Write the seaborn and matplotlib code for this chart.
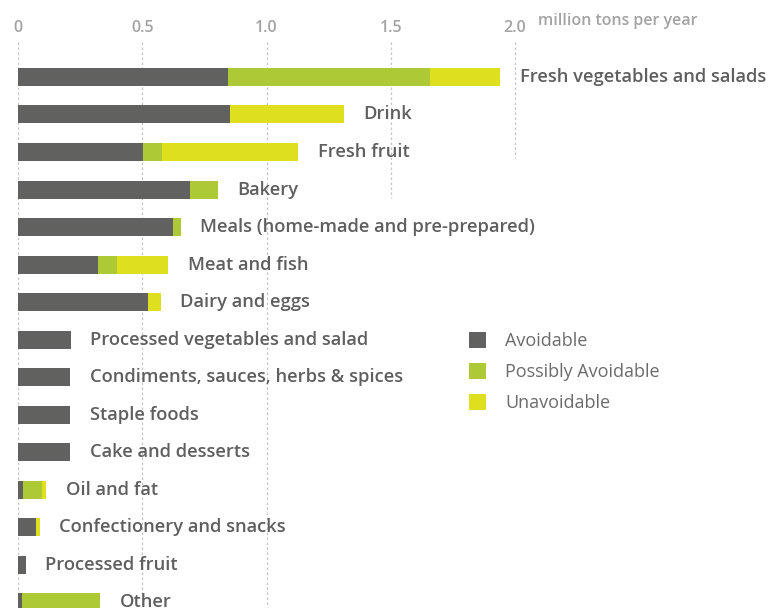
import matplotlib
matplotlib.use("Agg")
import matplotlib.pyplot as plt
import seaborn as sns
import pandas as pd
from matplotlib.patches import Patch

# Food waste per category (million tons per year)
categories = [
    "Fresh vegetables and salads", "Drink", "Fresh fruit", "Bakery",
    "Meals (home-made and pre-prepared)", "Meat and fish", "Dairy and eggs",
    "Processed vegetables and salad", "Condiments, sauces, herbs & spices",
    "Staple foods", "Cake and desserts", "Oil and fat",
    "Confectionery and snacks", "Processed fruit", "Other",
]
avoidable = [0.845, 0.853, 0.503, 0.692, 0.624, 0.322, 0.523, 0.213, 0.21, 0.21, 0.21, 0.02, 0.072, 0.032, 0.016]
possibly_avoidable = [0.813, 0.0, 0.077, 0.113, 0.032, 0.076, 0.0, 0.0, 0.0, 0.0, 0.0, 0.077, 0.0, 0.0, 0.314]
unavoidable = [0.282, 0.459, 0.547, 0.0, 0.0, 0.206, 0.052, 0.0, 0.0, 0.0, 0.0, 0.016, 0.016, 0.0, 0.0]
series_names = ["Avoidable", "Possibly Avoidable", "Unavoidable"]
tick_values = [0, 0.5, 1.0, 1.5, 2.0]
tick_labels = ["0", "0.5", "1.0", "1.5", "2.0"]
unit_label = "million tons per year"

colors = ["#616160", "#adc936", "#dedf1f"]
text_grey = "#5f5f5f"
tick_grey = "#a3a3a3"

df = pd.DataFrame({"category": categories, "a": avoidable,
                   "p": possibly_avoidable, "u": unavoidable})
df["ap"] = df["a"] + df["p"]
df["total"] = df["ap"] + df["u"]

sns.set_style("white")
plt.rcParams["font.family"] = ["Open Sans", "DejaVu Sans"]

fig = plt.figure(figsize=(7.72, 6.08), dpi=100)
W, H = 772, 608
x0_px, x_unit_px = 18, 248.5
top_px = 42
ax = fig.add_axes([x0_px / W, 0, 1 - x0_px / W, 1 - top_px / H])

bar_h = 0.48
# stacked bars: draw cumulative totals back to front
for col, c in zip(["total", "ap", "a"], colors[::-1]):
    sns.barplot(data=df, y="category", x=col, color=c, width=bar_h,
                saturation=1, orient="h", linewidth=0, ax=ax)

x_max = (W - x0_px) / x_unit_px
y_top = -0.93
y_bot = (H - 77) / 37.53
ax.set_xlim(0, x_max)
ax.set_ylim(y_bot, y_top)

# dotted gridlines (shorter at right so they stop above the labels)
grid_ends = {0: y_bot, 0.5: y_bot, 1.0: y_bot, 1.5: 3.23, 2.0: 2.16}
for xv, ye in grid_ends.items():
    ax.vlines(xv, y_top, ye, colors="#c4c4c4", linestyles=(0, (2, 2)),
              linewidth=0.9, zorder=0)

for i, row in df.iterrows():
    ax.annotate(row["category"], (row["total"], i), xytext=(14, 0),
                textcoords="offset points", va="center", ha="left",
                fontsize=13.2, fontweight="semibold", color=text_grey)

ax.xaxis.tick_top()
ax.set_xticks(tick_values)
ax.set_xticklabels(tick_labels)
ax.tick_params(axis="x", length=0, pad=4.5, labelsize=11.5, labelcolor=tick_grey)
for t in ax.get_xticklabels():
    t.set_fontweight("semibold")
ax.set_yticks([])
ax.set_xlabel("")
ax.set_ylabel("")
for s in ax.spines.values():
    s.set_visible(False)

fig.text(538 / W, 1 - 21 / H, unit_label, fontsize=11.5, fontweight="semibold",
         color=tick_grey, va="center", ha="left")

handles = [Patch(facecolor=c, edgecolor="none") for c in colors]
fig.legend(handles, series_names, loc="upper left",
           bbox_to_anchor=(453 / W, 1 - 316 / H), frameon=False,
           fontsize=13, labelcolor="#6b6b6b", handlelength=0.95,
           handleheight=0.95, handletextpad=1.05, labelspacing=0.72)

fig.savefig("out.png", dpi=100)
